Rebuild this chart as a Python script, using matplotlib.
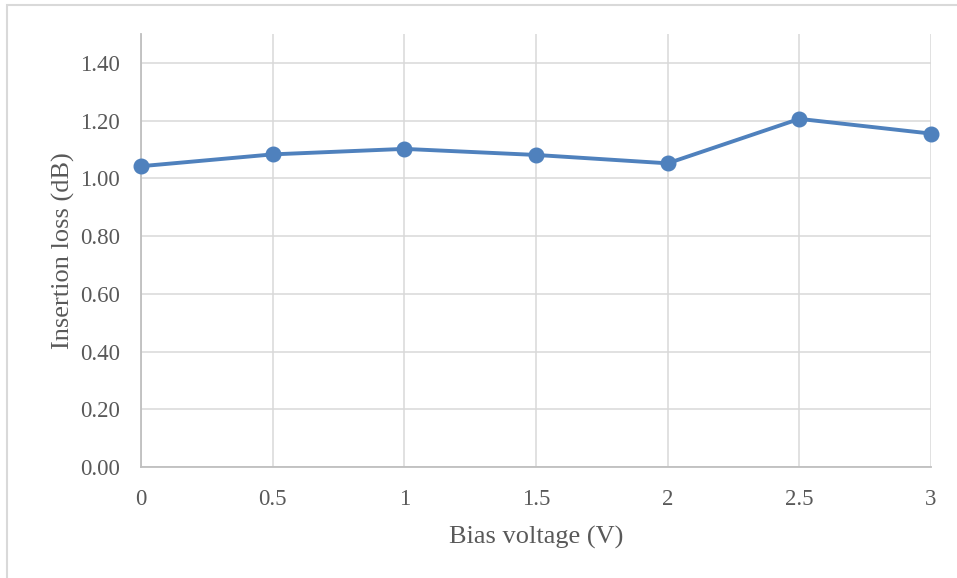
import matplotlib.pyplot as plt
from matplotlib.patches import Rectangle

# data
bias_voltage = [0, 0.5, 1, 1.5, 2, 2.5, 3]
insertion_loss = [1.042, 1.083, 1.102, 1.081, 1.052, 1.206, 1.155]
y_ticks = [0.0, 0.2, 0.4, 0.6, 0.8, 1.0, 1.2, 1.4]
x_ticks = [0, 0.5, 1, 1.5, 2, 2.5, 3]
x_tick_labels = ['0', '0.5', '1', '1.5', '2', '2.5', '3']

plt.rcParams['font.family'] = ['Liberation Serif', 'DejaVu Serif']
text_color = '#595959'
grid_color = '#d9d9d9'

fig = plt.figure(figsize=(9.57, 5.78), dpi=100)
ax = fig.add_axes([141 / 957, 111 / 578, 790 / 957, 433 / 578])

# grey frame around the chart area
fig.patches.append(Rectangle((7 / 957, -0.05), 1.0, 1 - 5 / 578 + 0.05, transform=fig.transFigure,
                             fill=False, edgecolor=grid_color, lw=1.5))

ax.plot(bias_voltage, insertion_loss, color='#4f81bd', lw=2.8, marker='o', markersize=10.5,
        zorder=3, clip_on=False)

ax.set_xlim(0, 3)
ax.set_ylim(0, 1.5)
ax.set_xticks(x_ticks)
ax.set_xticklabels(x_tick_labels)
ax.set_yticks(y_ticks)
ax.set_yticklabels([f'{v:.2f}' for v in y_ticks])
ax.tick_params(length=0, labelsize=16.5, colors=text_color)
ax.tick_params(axis='y', pad=15)
ax.tick_params(axis='x', pad=16)

ax.grid(True, color=grid_color, lw=1.1)
ax.set_axisbelow(True)
for side in ['top', 'right']:
    ax.spines[side].set_visible(False)
for side in ['left', 'bottom']:
    ax.spines[side].set_color('#bfbfbf')
    ax.spines[side].set_linewidth(1.3)

ax.set_xlabel('Bias voltage (V)', fontsize=19, color=text_color, labelpad=11)
ax.set_ylabel('Insertion loss (dB)', fontsize=19, color=text_color, labelpad=4)

plt.savefig('out.png', dpi=100)
